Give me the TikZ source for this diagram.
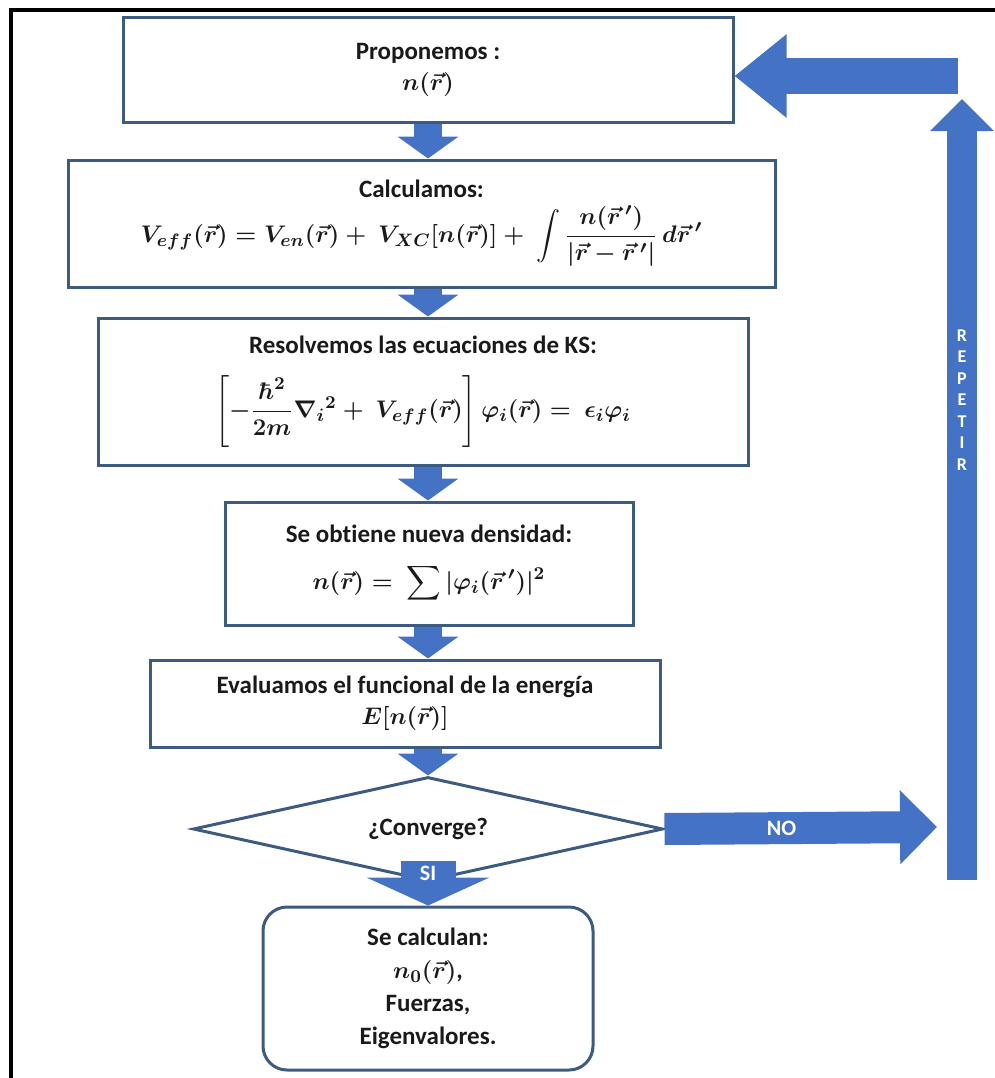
\documentclass[tikz,border=0pt]{standalone}
\usepackage{amsmath}
\usepackage[no-math]{fontspec}
\setmainfont{Carlito}[Ligatures=NoCommon]
\usetikzlibrary{shapes.geometric,arrows.meta,calc}
\definecolor{ablue}{HTML}{4472C4}
\definecolor{bord}{HTML}{3D5A80}
\definecolor{txt}{HTML}{1A1A1A}
\tikzset{
  px/.style={x=0.5pt,y=-0.5pt},
  box/.style={draw=bord, line width=1.5pt, fill=white, inner sep=0pt, align=center,
    text=txt, font=\fontsize{12.5}{15.5}\selectfont\bfseries\boldmath},
  downarrow/.style={draw=ablue, line width=14pt, -{Triangle[width=30pt,length=11pt]}},
  lbl/.style={text=white, font=\fontsize{11}{12}\selectfont\bfseries},
}
\begin{document}
\begin{tikzpicture}[px]
\useasboundingbox (0,0) rectangle (995,1078);
\draw[line width=2pt, black] (11,1078) -- (11,10) -- (995,10);

\node[box, minimum width=305pt, minimum height=52.5pt] (b1) at (428,69.5)
  {Proponemos :\\ $n(\vec r)$};
\node[box, minimum width=353.5pt, minimum height=63.5pt] (b2) at (421.5,223.5)
  {Calculamos:\\[3pt] $V_{eff}(\vec r) = V_{en}(\vec r) + \ V_{XC}[n(\vec r)] + \ \displaystyle\int \frac{n(\vec r\,')}{|\vec r - \vec r\,'|}\, d\vec r\,'$};
\node[box, minimum width=325pt, minimum height=73.5pt] (b3) at (423,391.5)
  {Resolvemos las ecuaciones de KS:\\[10pt] $\left[-\dfrac{\hbar^2}{2m}\nabla_i{}^2 + \ V_{eff}(\vec r)\right]\varphi_i(\vec r) = \ \epsilon_i\varphi_i$};
\node[box, minimum width=204pt, minimum height=61.5pt] (b4) at (429,563.5)
  {Se obtiene nueva densidad:\\[8pt] $n(\vec r) = \ \displaystyle\sum|\varphi_i(\vec r\,')|^2$};
\node[box, minimum width=255pt, minimum height=43.5pt] (b5) at (405,703.5)
  {Evaluamos el funcional de la energía\\ $E[n(\vec r)]$};
\node[box, shape=diamond, aspect=4.5, minimum width=235pt, minimum height=52pt] (d) at (428,829)
  {¿Converge?};
\node[box, rounded corners=12pt, minimum width=165pt, minimum height=81.5pt,
  font=\fontsize{12.5}{16.5}\selectfont\bfseries\boldmath] (b6) at (428,988.5)
  {Se calculan:\\ $n_0(\vec r)$,\\ Fuerzas,\\ Eigenvalores.};

\coordinate (noend) at (937,827);
\coordinate (rbot) at (962,880);
\coordinate (rtop) at (962,99);
\coordinate (tstart) at (958,76);

\draw[downarrow] (b1.south) -- (b1.south |- b2.north);
\draw[downarrow] (b1.south |- b2.south) -- (b1.south |- b3.north);
\draw[downarrow] (b1.south |- b3.south) -- (b1.south |- b4.north);
\draw[downarrow] (b1.south |- b4.south) -- (b1.south |- b5.north);
\draw[downarrow] (d.north |- b5.south) -- (d.north);
\draw[draw=ablue, line width=27.5pt, -{Triangle[width=61pt,length=14pt]}]
  ([yshift=11pt]d.south) -- (b6.north) node[lbl, pos=0.28] {SI};
\draw[draw=ablue, line width=16pt, -{Triangle[width=36pt,length=18.5pt]}]
  (d.east) -- (noend) node[lbl, pos=0.43] {NO};
\draw[draw=ablue, line width=15pt, -{Triangle[width=31pt,length=16pt]}]
  (rbot) -- (rtop);
\node[lbl, align=center, font=\fontsize{9}{10.75}\selectfont\bfseries] (rep) at (962,400)
  {R\\E\\P\\E\\T\\I\\R};
\draw[draw=ablue, line width=18pt, -{Triangle[width=40pt,length=26pt]}]
  (tstart) -- (b1.east |- tstart);
\end{tikzpicture}
\end{document}
